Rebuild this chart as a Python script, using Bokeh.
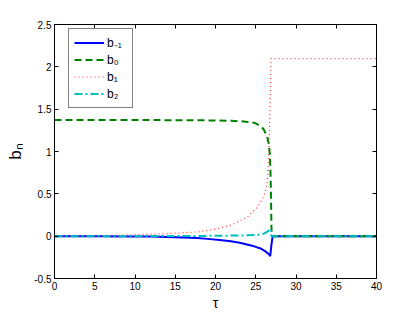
from bokeh.plotting import figure
from bokeh.models import LinearAxis, FixedTicker, Legend, LegendItem
from bokeh.embed import file_html
from bokeh.resources import INLINE

# ---- data ----
tau_m1 = [0, 5, 10, 12, 14, 16, 17.7, 19, 20.5, 21.9, 23, 23.9, 24.8, 25.6, 26.2, 26.6, 26.8, 26.95, 27.1, 40]
b_m1 = [0, -0.001, -0.003, -0.005, -0.009, -0.015, -0.022, -0.032, -0.045, -0.06, -0.078, -0.098, -0.12, -0.145, -0.18, -0.21, -0.235, -0.1, 0, 0]

tau_0 = [0, 10, 15, 20, 22, 23.5, 24.8, 25.6, 26.0, 26.4, 26.6, 26.75, 26.85, 26.92, 26.96, 27.0, 40]
b_0 = [1.372, 1.372, 1.37, 1.367, 1.362, 1.355, 1.34, 1.3, 1.26, 1.18, 1.1, 0.97, 0.69, 0.3, 0.06, 0, 0]

tau_1 = [0, 5, 9.4, 13.6, 17.7, 19.8, 21.9, 23.9, 25.2, 26.0, 26.4, 26.6, 26.8, 26.9, 40]
b_1 = [0, 0.004, 0.015, 0.028, 0.05, 0.08, 0.13, 0.22, 0.34, 0.47, 0.61, 0.89, 1.6, 2.096, 2.096]

tau_2 = [0, 10, 15, 20, 23, 25.2, 26.0, 26.4, 26.7, 26.85, 26.95, 40]
b_2 = [0, 0.0, 0.001, 0.004, 0.008, 0.014, 0.03, 0.05, 0.075, 0.09, 0, 0]

labels = ["b\u208B\u2081", "b\u2080", "b\u2081", "b\u2082"]
x_ticks = [0, 5, 10, 15, 20, 25, 30, 35, 40]
y_ticks = [-0.5, 0, 0.5, 1, 1.5, 2, 2.5]
y_tick_labels = ["-0.5", "0", "0.5", "1", "1.5", "2", "2.5"]
x_label = "\u03C4"
y_label = "b\u2099"

FONT = "Liberation Sans"

p = figure(width=415, height=313, x_range=(0, 40), y_range=(-0.5, 2.5),
           output_backend="svg", toolbar_location=None,
           min_border_left=54, min_border_right=39, min_border_top=24, min_border_bottom=35,
           background_fill_color="white", border_fill_color="white")
p.grid.visible = False
p.outline_line_color = "black"
p.outline_line_width = 1

r1 = p.line(tau_m1, b_m1, line_color="#0000ff", line_width=2)
r2 = p.line(tau_0, b_0, line_color="#008000", line_width=2, line_dash="7 4")
r3 = p.line(tau_1, b_1, line_color="#ff3333", line_width=1.2, line_dash="1 3")
r4 = p.line(tau_2, b_2, line_color="#00bfbf", line_width=2, line_dash="8 3 2 3")

def style_axis(ax, show_labels=True):
    ax.major_tick_in = 4
    ax.major_tick_out = 0
    ax.minor_tick_in = 0
    ax.minor_tick_out = 0
    ax.axis_line_color = "black"
    ax.major_tick_line_color = "black"
    ax.major_label_text_font = FONT
    ax.major_label_standoff = 3
    ax.major_label_text_color = "black"
    if show_labels:
        ax.major_label_text_font_size = "10px"
    else:
        ax.major_label_text_font_size = "1px"
        ax.major_label_text_alpha = 0
        ax.major_label_standoff = 0

xa = p.xaxis[0]
ya = p.yaxis[0]
xa.ticker = FixedTicker(ticks=x_ticks)
ya.ticker = FixedTicker(ticks=y_ticks)
ya.major_label_overrides = {t: l for t, l in zip(y_ticks, y_tick_labels)}
style_axis(xa)
style_axis(ya)
xa.axis_label = x_label
ya.axis_label = y_label
xa.axis_label_text_font = FONT
ya.axis_label_text_font = FONT
xa.axis_label_text_font_style = "normal"
ya.axis_label_text_font_style = "normal"
xa.axis_label_text_color = "black"
ya.axis_label_text_color = "black"
xa.axis_label_text_font_size = "14px"
ya.axis_label_text_font_size = "17px"
xa.axis_label_standoff = 2
ya.axis_label_standoff = 6

top = LinearAxis(ticker=FixedTicker(ticks=x_ticks))
right = LinearAxis(ticker=FixedTicker(ticks=y_ticks))
style_axis(top, False)
style_axis(right, False)
p.add_layout(top, "above")
p.add_layout(right, "right")

legend = Legend(items=[LegendItem(label=l, renderers=[r]) for l, r in zip(labels, [r1, r2, r3, r4])],
                location=(14, 170))
legend.glyph_width = 30
legend.glyph_height = 17
legend.label_height = 17
legend.spacing = 0
legend.padding = 5
legend.margin = 0
legend.label_standoff = 3
legend.label_text_font = FONT
legend.label_text_font_size = "12px"
legend.label_text_color = "black"
legend.border_line_color = "black"
legend.border_line_width = 1
legend.background_fill_color = "white"
p.add_layout(legend, "center")

open("out.html", "w").write(file_html(p, INLINE))
